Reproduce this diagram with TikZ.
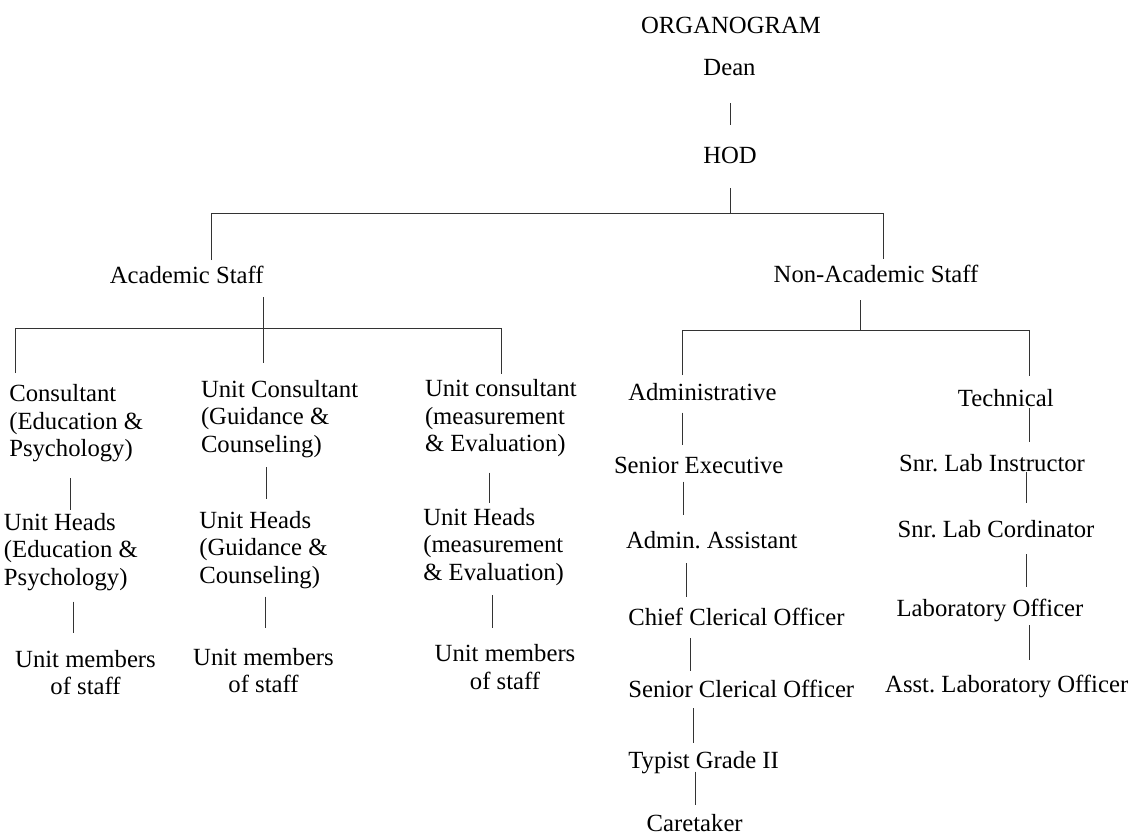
\documentclass[tikz,border=0pt]{standalone}
\usepackage{fontspec}
\setmainfont{Liberation Serif}
\frenchspacing
\newcommand{\mlines}[1]{\begin{tabular}[t]{@{}l@{}}#1\end{tabular}}
\newcommand{\mcent}[1]{\begin{tabular}[t]{@{}c@{}}#1\end{tabular}}
\tikzset{
  lbl/.style={inner sep=0pt, outer sep=0pt, font=\fontsize{24.7}{27.5}\selectfont\frenchspacing, text=black},
  lw/.style={lbl, anchor=base west},
  lc/.style={lbl, anchor=base},
  conn/.style={draw=black!80, line width=1pt}
}
\begin{document}
\begin{tikzpicture}[x=1pt,y=-1pt]
\useasboundingbox (0,0) rectangle (1132,835);
% nodes
\node[lc] (org) at (731,33.3) {ORGANOGRAM};
\node[lc] (dean) at (729.5,75) {Dean};
\node[lc] (hod) at (730,163.3) {HOD};
\node[lc] (acad) at (186.7,283.3) {Academic Staff};
\node[lc] (nonac) at (876,282.7) {Non-Academic Staff};
\node[lw] (c1) at (9.3,401.7) {\mlines{Consultant\\(Education \&\\Psychology)}};
\node[lw] (c2) at (201,397.3) {\mlines{Unit Consultant\\(Guidance \&\\Counseling)}};
\node[lw] (c3) at (425,396.7) {\mlines{Unit consultant\\(measurement\\\& Evaluation)}};
\node[lw] (h1) at (4,530) {\mlines{Unit Heads\\(Education \&\\Psychology)}};
\node[lw] (h2) at (199.3,528.3) {\mlines{Unit Heads\\(Guidance \&\\Counseling)}};
\node[lw] (h3) at (423.3,525) {\mlines{Unit Heads\\(measurement\\\& Evaluation)}};
\node[lc] (m1) at (85.5,667.3) {\mcent{Unit members\\of staff}};
\node[lc] (m2) at (263.5,665) {\mcent{Unit members\\of staff}};
\node[lc] (m3) at (505,661.7) {\mcent{Unit members\\of staff}};
\node[lw] (adm) at (628.3,400) {Administrative};
\node[lw] (sex) at (614,473.3) {Senior Executive};
\node[lw] (aas) at (626,548.3) {Admin. Assistant};
\node[lw] (cco) at (628.3,625.7) {Chief Clerical Officer};
\node[lw] (sco) at (628.3,697.3) {Senior Clerical Officer};
\node[lw] (typ) at (628.3,768.3) {Typist Grade II};
\node[lc] (care) at (694.7,831.7) {Caretaker};
\node[lc] (tech) at (1005.8,406) {Technical};
\node[lc] (sli) at (992,471) {Snr. Lab Instructor};
\node[lc] (slc) at (996,537.3) {Snr. Lab Cordinator};
\node[lc] (lo) at (990,616.7) {Laboratory Officer};
\node[lc] (alo) at (1006.7,692.7) {Asst. Laboratory Officer};
% top
\draw[conn] (730,103.3) -- (730,125);
\draw[conn] (730,188.3) -- (730,213.3);
\draw[conn] (211.7,260) -- (211.7,213.3) -- (883.3,213.3) -- (883.3,259.3);
% academic
\draw[conn] (263.3,297) -- (263.3,363);
\draw[conn] (15,373) -- (15,328.3) -- (501.7,328.3) -- (501.7,374);
\draw[conn] (70,478.3) -- (70,510);
\draw[conn] (73.3,601.7) -- (73.3,633.3);
\draw[conn] (266.7,467.3) -- (266.7,499.3);
\draw[conn] (265,596.7) -- (265,628.3);
\draw[conn] (489.3,472.7) -- (489.3,503.3);
\draw[conn] (492.3,595) -- (492.3,628.3);
% non-academic
\draw[conn] (860,300) -- (860,330);
\draw[conn] (682.3,375) -- (682.3,330) -- (1029.3,330) -- (1029.3,376);
\draw[conn] (682.3,412.7) -- (682.3,445);
\draw[conn] (683.3,481.7) -- (683.3,515);
\draw[conn] (686.7,563.3) -- (686.7,596.7);
\draw[conn] (690,638.3) -- (690,670.7);
\draw[conn] (693.3,708.3) -- (693.3,742.7);
\draw[conn] (695,771.7) -- (695,805);
\draw[conn] (1029.3,408) -- (1029.3,441.7);
\draw[conn] (1026,471.7) -- (1026,503.3);
\draw[conn] (1026,554) -- (1026,586.7);
\draw[conn] (1029.3,625) -- (1029.3,660);
\end{tikzpicture}
\end{document}
